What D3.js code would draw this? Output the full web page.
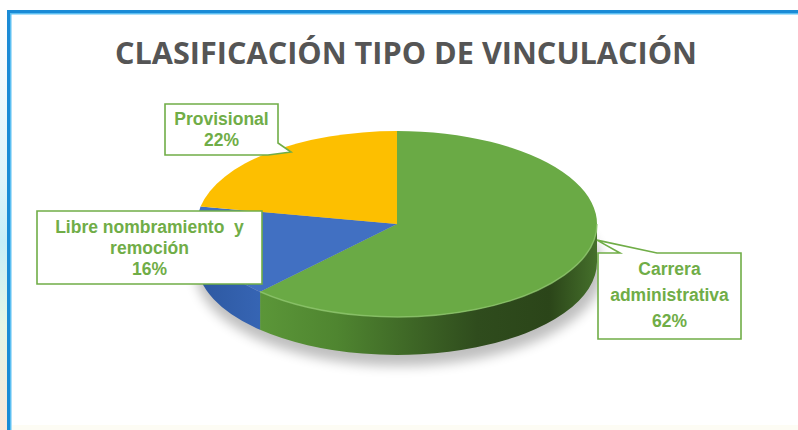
<!DOCTYPE html>
<html>
<head>
<meta charset="utf-8">
<script src="https://cdn.jsdelivr.net/npm/d3@7"></script>
<style>
  body { margin: 0; background: #fff; }
  svg { display: block; }
</style>
</head>
<body>
<div id="chart"></div>
<script>
// data
var categories = ["Carrera administrativa", "Libre nombramiento  y remoción", "Provisional"];
var values = [62, 16, 22];
var labelLines = [["Carrera", "administrativa"], ["Libre nombramiento  y", "remoción"], ["Provisional"]];
var title = "CLASIFICACIÓN TIPO DE VINCULACIÓN";

var w = 798, h = 430;
var cx = 397, cy = 224, rx = 200, ry = 93, depth = 38;

var topColors = ["#6aaa45", "#4170c2", "#fdbf00"];
var sideColors = ["url(#sideGreen)", "url(#sideBlue)", "#c79500"];

var svg = d3.select("#chart").append("svg")
    .attr("width", w)
    .attr("height", h);

var defs = svg.append("defs");

// side gradient of the green slice
var g1 = defs.append("linearGradient").attr("id", "sideGreen")
    .attr("gradientUnits", "userSpaceOnUse")
    .attr("x1", cx - rx).attr("x2", cx + rx).attr("y1", 0).attr("y2", 0);
g1.append("stop").attr("offset", "0.05").attr("stop-color", "#62a03d");
g1.append("stop").attr("offset", "0.35").attr("stop-color", "#4f8530");
g1.append("stop").attr("offset", "0.7").attr("stop-color", "#2f4c1d");
g1.append("stop").attr("offset", "0.88").attr("stop-color", "#2b4519");
g1.append("stop").attr("offset", "1").attr("stop-color", "#45702b");

var g2 = defs.append("linearGradient").attr("id", "sideBlue")
    .attr("gradientUnits", "userSpaceOnUse")
    .attr("x1", cx - rx).attr("x2", cx - rx + 70).attr("y1", 0).attr("y2", 0);
g2.append("stop").attr("offset", "0").attr("stop-color", "#2d58a0");
g2.append("stop").attr("offset", "1").attr("stop-color", "#3766b6");

var edge = defs.append("linearGradient").attr("id", "edgeStrip")
    .attr("x1", 0).attr("x2", 0).attr("y1", 0).attr("y2", 1);
edge.append("stop").attr("offset", "0").attr("stop-color", "#ffffff");
edge.append("stop").attr("offset", "0.4").attr("stop-color", "#dff3fa");
edge.append("stop").attr("offset", "0.55").attr("stop-color", "#c6eef8");
edge.append("stop").attr("offset", "0.75").attr("stop-color", "#e5f5e6");
edge.append("stop").attr("offset", "1").attr("stop-color", "#fde7da");

var blur = defs.append("filter").attr("id", "shadowBlur")
    .attr("x", "-20%").attr("y", "-40%").attr("width", "140%").attr("height", "180%");
blur.append("feGaussianBlur").attr("stdDeviation", 6);

// page frame
svg.append("rect").attr("x", 0).attr("y", 12).attr("width", 8).attr("height", h - 12)
    .attr("fill", "url(#edgeStrip)");
svg.append("rect").attr("x", 7).attr("y", 10).attr("width", w - 7).attr("height", 3).attr("fill", "#1a8bd6");
svg.append("rect").attr("x", 10).attr("y", 13).attr("width", w - 10).attr("height", 1.5).attr("fill", "#5cbff2");
svg.append("rect").attr("x", 7).attr("y", 10).attr("width", 3).attr("height", h - 10).attr("fill", "#1a8bd6");
svg.append("rect").attr("x", 10).attr("y", 13).attr("width", 1.5).attr("height", h - 13).attr("fill", "#5cbff2");
svg.append("rect").attr("x", 12).attr("y", h - 5).attr("width", w - 12).attr("height", 5).attr("fill", "#fdfcf4");

// title
svg.append("text")
    .attr("x", 115).attr("y", 64)
    .attr("textLength", 582)
    .attr("lengthAdjust", "spacingAndGlyphs")
    .style("font-family", "'Open Sans', sans-serif")
    .style("font-weight", 700)
    .style("font-size", "31px")
    .style("fill", "#555555")
    .text(title);

var pie = d3.pie().sort(null).value(function(d) { return d; });
var arcs = pie(values);

function pt(a, dy) {
    return [cx + rx * Math.sin(a), cy - ry * Math.cos(a) + (dy || 0)];
}

function topPath(d) {
    var s = pt(d.startAngle), e = pt(d.endAngle);
    var large = (d.endAngle - d.startAngle) > Math.PI ? 1 : 0;
    return "M" + cx + "," + cy + "L" + s + "A" + rx + "," + ry + " 0 " + large + " 1 " + e + "Z";
}

function sidePath(d) {
    var a0 = Math.max(d.startAngle, Math.PI / 2);
    var a1 = Math.min(d.endAngle, Math.PI * 1.5);
    if (a1 <= a0) return null;
    var s = pt(a0), e = pt(a1), eb = pt(a1, depth), sb = pt(a0, depth);
    return "M" + s + "A" + rx + "," + ry + " 0 0 1 " + e +
        "L" + eb + "A" + rx + "," + ry + " 0 0 0 " + sb + "Z";
}

// soft shadow under the pie
svg.append("ellipse")
    .attr("cx", cx + 2).attr("cy", cy + depth + 8)
    .attr("rx", rx + 4).attr("ry", ry + 3)
    .attr("fill", "#000").attr("opacity", 0.25)
    .attr("filter", "url(#shadowBlur)");

// side walls
svg.append("g").selectAll("path")
    .data(arcs.filter(function(d) { return sidePath(d) !== null; }))
    .enter()
    .append("path")
    .attr("d", sidePath)
    .attr("fill", function(d) { return sideColors[d.index]; });

// top faces
svg.append("g").selectAll("path")
    .data(arcs)
    .enter()
    .append("path")
    .attr("d", topPath)
    .attr("fill", function(d, i) { return topColors[i]; });

// bevel highlight on the front rim of the green slice
var rimStart = pt(Math.PI / 2), rimEnd = pt(arcs[0].endAngle);
svg.append("path")
    .attr("d", "M" + rimStart + "A" + rx + "," + ry + " 0 0 1 " + rimEnd)
    .attr("fill", "none")
    .attr("stroke", "#8cc46a")
    .attr("stroke-width", 1.5)
    .attr("opacity", 0.8);

// callout boxes
var green = "#70ad47";
var boxes = [
    { x: 598, y: 253, w: 143, h: 86, tip: pt(Math.PI / 2 - 0.02, 18), base: [620, 657], side: "top",
      lines: [labelLines[0][0], labelLines[0][1]], pct: values[0] + "%", ty: 275 },
    { x: 37, y: 211, w: 225, h: 73, tip: null,
      lines: [labelLines[1][0], labelLines[1][1]], pct: values[1] + "%", ty: 233 },
    { x: 165, y: 104, w: 113, h: 51, tip: [291, 152], side: "corner",
      lines: [labelLines[2][0]], pct: values[2] + "%", ty: 125 }
];

boxes.forEach(function(b) {
    var d;
    var x0 = b.x, y0 = b.y, x1 = b.x + b.w, y1 = b.y + b.h;
    if (b.side === "top") {
        d = "M" + x0 + "," + y0 + "L" + b.base[0] + "," + y0 + "L" + b.tip + "L" + b.base[1] + "," + y0 +
            "L" + x1 + "," + y0 + "L" + x1 + "," + y1 + "L" + x0 + "," + y1 + "Z";
    } else if (b.side === "corner") {
        d = "M" + x0 + "," + y0 + "L" + x1 + "," + y0 + "L" + x1 + "," + (y1 - 12) + "L" + b.tip +
            "L" + (x1 - 10) + "," + y1 + "L" + x0 + "," + y1 + "Z";
    } else {
        d = "M" + x0 + "," + y0 + "L" + x1 + "," + y0 + "L" + x1 + "," + y1 + "L" + x0 + "," + y1 + "Z";
    }
    svg.append("path")
        .attr("d", d)
        .attr("fill", "#fff")
        .attr("stroke", green)
        .attr("stroke-width", 1.6)
        .attr("stroke-linejoin", "miter");

    var t = svg.append("text")
        .attr("x", x0 + b.w / 2)
        .attr("y", b.ty)
        .attr("text-anchor", "middle")
        .style("font-family", "'Liberation Sans', Arial, sans-serif")
        .style("font-weight", "bold")
        .style("font-size", "17.5px")
        .style("fill", green)
        .style("white-space", "pre");
    var allLines = b.lines.concat([b.pct]);
    allLines.forEach(function(l, i) {
        t.append("tspan")
            .attr("x", x0 + b.w / 2)
            .attr("dy", i === 0 ? 0 : (b.side === "top" ? 26 : 21))
            .text(l);
    });
});
</script>
</body>
</html>
